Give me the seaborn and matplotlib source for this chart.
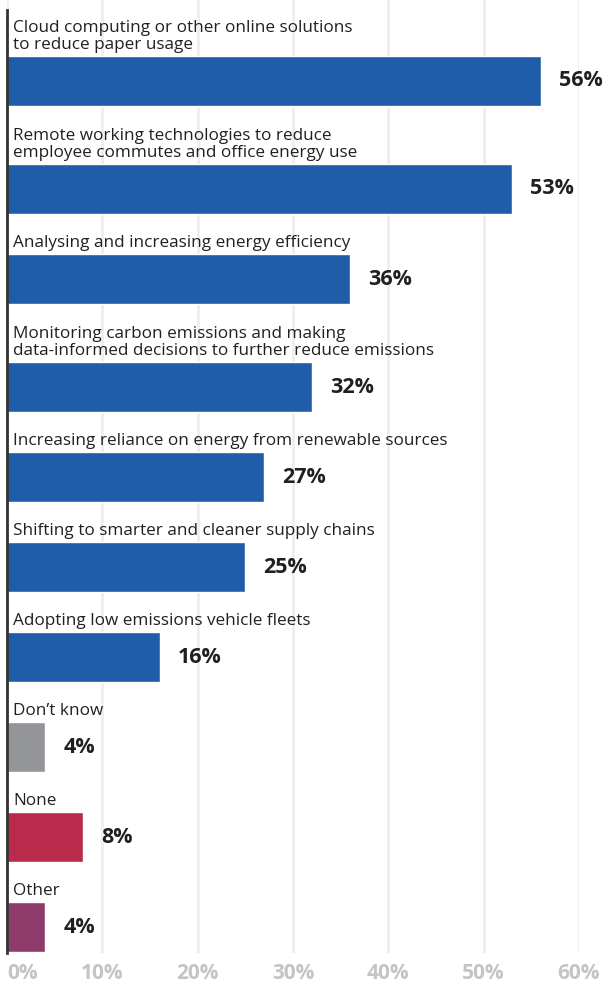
import matplotlib
matplotlib.use("Agg")
import matplotlib.pyplot as plt
import seaborn as sns
import pandas as pd

categories = [
    "Cloud computing or other online solutions\nto reduce paper usage",
    "Remote working technologies to reduce\nemployee commutes and office energy use",
    "Analysing and increasing energy efficiency",
    "Monitoring carbon emissions and making\ndata-informed decisions to further reduce emissions",
    "Increasing reliance on energy from renewable sources",
    "Shifting to smarter and cleaner supply chains",
    "Adopting low emissions vehicle fleets",
    "Don\u2019t know",
    "None",
    "Other",
]
values = [56, 53, 36, 32, 27, 25, 16, 4, 8, 4]
bar_colors = ["#205DA9"] * 7 + ["#939598", "#BA2A4B", "#8E3B6B"]
tick_values = [0, 10, 20, 30, 40, 50, 60]

sns.set_theme(style="white")
plt.rcParams["font.family"] = ["Open Sans", "DejaVu Sans"]

# Row layout in pixel units: two-line labels get an extra text line of room
W, H = 609, 988
first_center, pitch, extra_line, bar_h = 81, 90, 18, 50
centers = []
c = first_center
for i, lab in enumerate(categories):
    if i > 0:
        c += pitch + extra_line * (lab.count("\n"))
    centers.append(c)

df = pd.DataFrame({"label": categories, "value": values, "pos": centers})

fig = plt.figure(figsize=(W / 100, H / 100), dpi=100)
ax_bottom = 953
ax = fig.add_axes([7 / W, (H - ax_bottom) / H, (579 - 7) / W, ax_bottom / H])

sns.barplot(data=df, x="value", y="pos", hue="label", palette=bar_colors,
            orient="h", native_scale=True, width=bar_h / pitch, legend=False,
            saturation=1, ax=ax, zorder=3)

# force exact bar thickness in pixel units
for patch, yc in zip(ax.patches, centers):
    patch.set_height(bar_h)
    patch.set_y(yc - bar_h / 2)

ax.set_xlim(0, 60)
ax.set_ylim(ax_bottom, 0)

for lab, val, yc in zip(categories, values, centers):
    ax.annotate(lab, xy=(0, yc - bar_h / 2), xytext=(4.5, 2.5),
                textcoords="offset points", ha="left", va="bottom",
                fontsize=12.3, color="#231f20", linespacing=1.03)
    ax.annotate(f"{val}%", xy=(val, yc), xytext=(13, 0),
                textcoords="offset points", ha="left", va="center",
                fontsize=15.5, fontweight="bold", color="#231f20")

ax.set_xticks(tick_values)
ax.set_xticklabels([f"{v}%" for v in tick_values], fontsize=15,
                   fontweight="bold", color="#c4c4c4")
ax.get_xticklabels()[0].set_horizontalalignment("left")
ax.tick_params(axis="x", length=0, pad=7)
ax.set_yticks([])
ax.set_xlabel("")
ax.set_ylabel("")
ax.grid(axis="x", color="#eeeeee", linewidth=2, zorder=0)
ax.set_axisbelow(True)
for s in ["top", "right", "bottom"]:
    ax.spines[s].set_visible(False)
ax.spines["left"].set_color("#333333")
ax.spines["left"].set_linewidth(2)
ax.spines["left"].set_bounds(ax_bottom, 10)
ax.spines["left"].set_zorder(5)

fig.savefig("out.png", dpi=100)
